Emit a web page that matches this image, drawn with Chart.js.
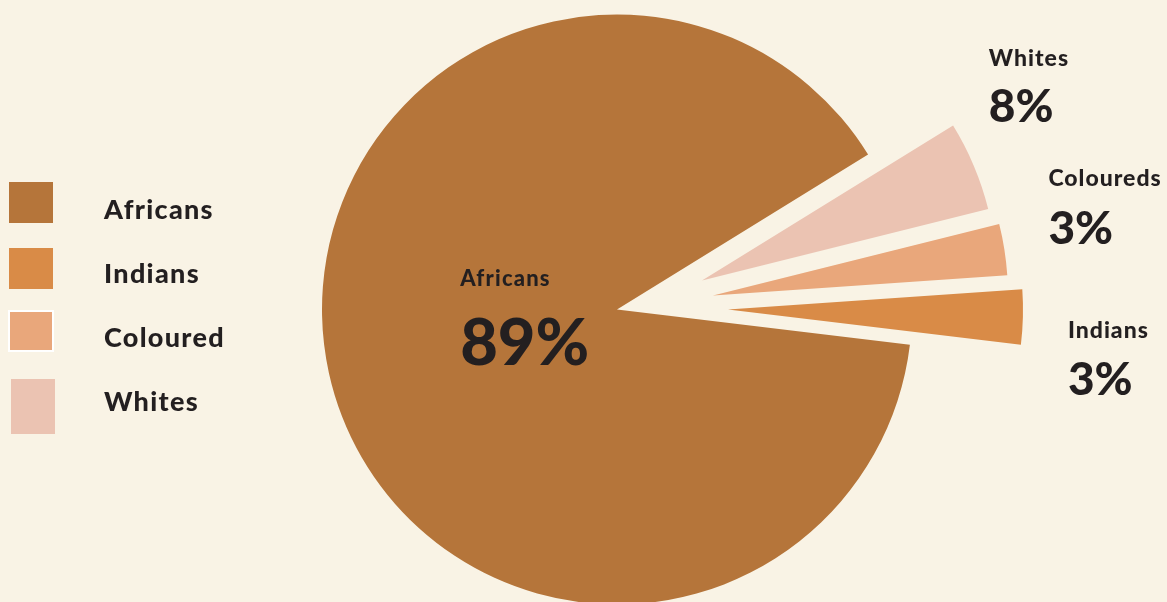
<!DOCTYPE html>
<html>
<head>
<meta charset="utf-8">
<script src="https://cdn.jsdelivr.net/npm/chart.js@4"></script>
<style>
  html, body { margin: 0; padding: 0; background: #f9f3e5; }
  #wrap { position: relative; width: 1167px; height: 602px; overflow: hidden; font-family: Lato, 'Open Sans', sans-serif; }
  #pie { position: absolute; left: 0; top: 0; }
  .sw { position: absolute; box-sizing: border-box; }
  .lt { position: absolute; left: 104px; font-weight: 900; font-size: 27px; color: #231f20; line-height: 30px; letter-spacing: 1.3px; }
</style>
</head>
<body>
<div id="wrap">
  <canvas id="pie" width="1167" height="602"></canvas>
  <div id="legend"></div>
</div>
<script>
// ---- Data (slice order = clockwise from the Africans slice) ----
const categories  = ['Africans', 'Whites', 'Coloureds', 'Indians'];
const shares      = [89.3, 4.9, 2.8, 3.0];        // slice sizes as drawn
const shareLabels = ['89%', '8%', '3%', '3%'];     // printed values
const legendItems = ['Africans', 'Indians', 'Coloured', 'Whites'];

// ---- Style / layout ----
const ink = '#231f20';
const sliceColors  = ['#b5753a', '#ebc3b2', '#e9a77b', '#d98b47'];
const legendColors = ['#b5753a', '#d98b47', '#e9a77b', '#ebc3b2'];
const R = 295;                                            // pie radius
const explode = [[0, 0], [85, -29], [96, -14], [111, 0]]; // how far each slice is pulled out (px)
// label placement: anchor fraction of R along mid angle, shift of the baseline, gap to % line, font sizes
const labelCfg = [
  { f: 0.35, dx: -56, dy: -46,  gap: 79, nameSize: 22, pctSize: 65, ls: 1.2 },
  { f: 1,    dx: 15,  dy: -100, gap: 56, nameSize: 23, pctSize: 46, ls: 1 },
  { f: 1,    dx: 44,  dy: -63,  gap: 58, nameSize: 23, pctSize: 46, ls: 1 },
  { f: 1,    dx: 45,  dy: 21,   gap: 57, nameSize: 23, pctSize: 46, ls: 1 }
];
const legendBoxes = [
  { l: 9,  t: 182, w: 44, h: 41, cy: 209 },
  { l: 9,  t: 248, w: 44, h: 41, cy: 273 },
  { l: 8,  t: 310, w: 46, h: 42, cy: 337, border: '2px solid #ffffff' },
  { l: 11, t: 379, w: 44, h: 55, cy: 401 }
];

// ---- Legend (HTML) ----
const legendEl = document.getElementById('legend');
legendItems.forEach((name, i) => {
  const b = legendBoxes[i];
  const sw = document.createElement('div');
  sw.className = 'sw';
  sw.style.cssText = `left:${b.l}px;top:${b.t}px;width:${b.w}px;height:${b.h}px;background:${legendColors[i]};` + (b.border ? `border:${b.border};` : '');
  legendEl.appendChild(sw);
  const t = document.createElement('div');
  t.className = 'lt';
  t.style.top = (b.cy - 15) + 'px';
  t.textContent = name;
  legendEl.appendChild(t);
});

// Pull slices out by moving their centre (Chart.js 'offset' also shrinks/grows the arc)
const explodeSlices = {
  id: 'explodeSlices',
  afterDatasetsUpdate(chart) {
    chart.getDatasetMeta(0).data.forEach((arc, i) => {
      arc.x += explode[i][0];
      arc.y += explode[i][1];
    });
  }
};

const sliceLabels = {
  id: 'sliceLabels',
  afterDatasetsDraw(chart) {
    const ctx = chart.ctx;
    ctx.save();
    ctx.fillStyle = ink;
    ctx.textAlign = 'left';
    ctx.textBaseline = 'alphabetic';
    chart.getDatasetMeta(0).data.forEach((arc, i) => {
      const mid = (arc.startAngle + arc.endAngle) / 2;
      const c = labelCfg[i];
      const x = arc.x + Math.cos(mid) * R * c.f + c.dx;
      const y = arc.y + Math.sin(mid) * R * c.f + c.dy;
      ctx.letterSpacing = c.ls + 'px';
      ctx.font = `900 ${c.nameSize}px Lato, sans-serif`;
      ctx.fillText(categories[i], x, y);
      ctx.letterSpacing = '0px';
      ctx.font = `900 ${c.pctSize}px Lato, sans-serif`;
      ctx.fillText(shareLabels[i], x, y + c.gap);
    });
    ctx.restore();
  }
};

new Chart(document.getElementById('pie'), {
  type: 'pie',
  data: {
    labels: categories,
    datasets: [{
      data: shares,
      backgroundColor: sliceColors,
      borderWidth: 0,
      clip: false
    }]
  },
  options: {
    responsive: false,
    animation: false,
    events: [],
    rotation: 96.85,
    radius: R,
    layout: { padding: { left: 67, top: 17, right: 0, bottom: 0 } },
    plugins: { legend: { display: false }, tooltip: { enabled: false } }
  },
  plugins: [explodeSlices, sliceLabels]
});
</script>
</body>
</html>
